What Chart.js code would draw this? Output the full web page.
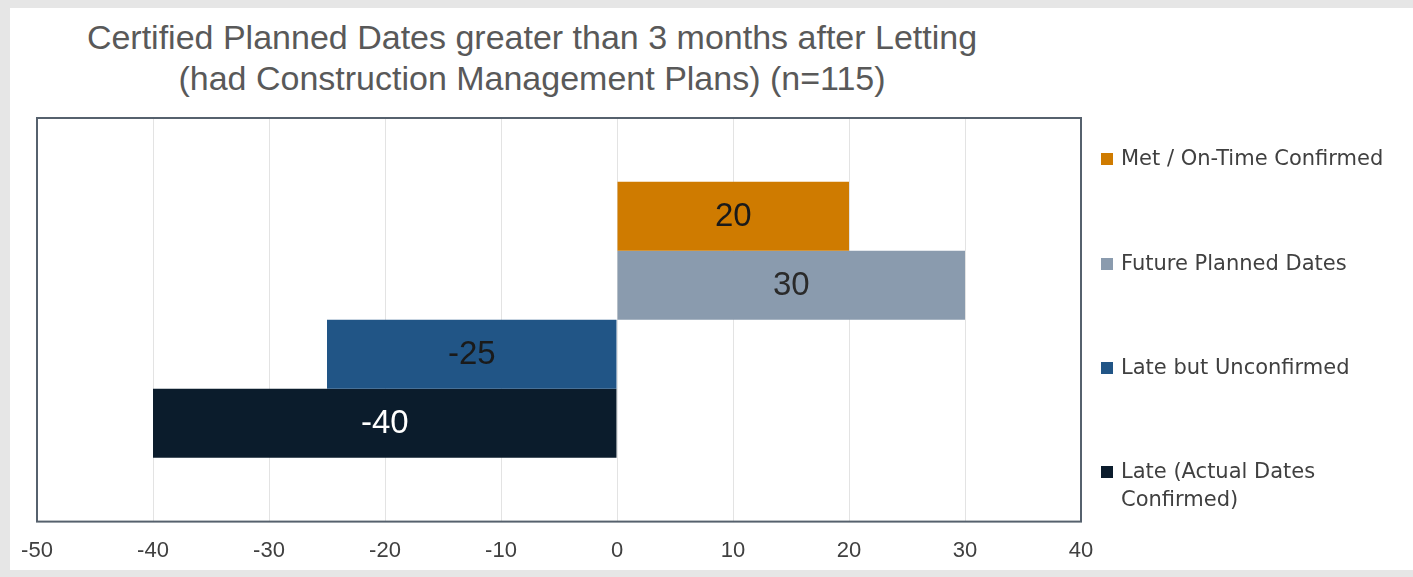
<!DOCTYPE html>
<html>
<head>
<meta charset="utf-8">
<script src="https://cdn.jsdelivr.net/npm/chart.js@4.4.1/dist/chart.umd.min.js"></script>
<style>
  html, body { margin: 0; padding: 0; background: #e6e6e6; }
  #wrap { position: relative; width: 1413px; height: 577px; overflow: hidden; }
  #panel { position: absolute; left: 10px; top: 8px; width: 1403px; height: 562px; background: #fff; }
  #title { position: absolute; left: 32px; width: 1000px; top: 17px; text-align: center;
    font-family: "Liberation Sans", sans-serif; font-size: 34px;
    line-height: 41px; color: #595959; }
  #chartBox { position: absolute; left: 0; top: 3px; width: 1413px; height: 577px; }
  #legend { position: absolute; left: 1101px; top: 0; font-family: "DejaVu Sans", sans-serif;
    font-size: 21px; color: #404040; }
  .item { position: absolute; left: 0; white-space: nowrap; line-height: 28px; }
  .item span.box { position: absolute; left: 0; top: 9px; width: 12px; height: 12px; }
  .item span.txt { position: absolute; left: 20px; top: 0; }
</style>
</head>
<body>
<div id="wrap">
  <div id="panel"></div>
  <div id="title">Certified Planned Dates greater than 3 months after Letting<br>(had Construction Management Plans) (n=115)</div>
  <div id="chartBox"><canvas id="perfChart" width="1413" height="577"></canvas></div>
  <div id="legend"></div>
</div>
<script>
const categories = [""];
const seriesNames = ["Met / On-Time Confirmed", "Future Planned Dates", "Late but Unconfirmed", "Late (Actual Dates Confirmed)"];
const seriesValues = [20, 30, -25, -40];
const seriesColors = ["#cf7b00", "#8a9bae", "#215586", "#0b1c2c"];
const labelColors = ["#1a1a1a", "#2a2a2a", "#1a1a1a", "#ffffff"];
const legendLines = [["Met / On-Time Confirmed"], ["Future Planned Dates"], ["Late but Unconfirmed"], ["Late (Actual Dates", "Confirmed)"]];
const xTicks = [-50, -40, -30, -20, -10, 0, 10, 20, 30, 40];

// legend built by hand so the last label can wrap like the original
const legendTops = [144, 249, 353, 457];
const legendEl = document.getElementById("legend");
legendLines.forEach((lines, i) => {
  const item = document.createElement("div");
  item.className = "item";
  item.style.top = legendTops[i] + "px";
  item.innerHTML = `<span class="box" style="background:${seriesColors[i]}"></span><span class="txt">${lines.join("<br>")}</span>`;
  legendEl.appendChild(item);
});

const frameAndLabels = {
  id: "frameAndLabels",
  afterDatasetsDraw(chart) {
    const ctx = chart.ctx;
    ctx.save();
    ctx.font = "33px 'Liberation Sans', sans-serif";
    ctx.textAlign = "center";
    ctx.textBaseline = "middle";
    chart.data.datasets.forEach((ds, i) => {
      const bar = chart.getDatasetMeta(i).data[0];
      const cx = (bar.x + bar.base) / 2;
      ctx.fillStyle = labelColors[i];
      ctx.fillText(String(ds.data[0]), cx, bar.y + 1);
    });
    const a = chart.chartArea;
    ctx.strokeStyle = "#56616d";
    ctx.lineWidth = 2;
    ctx.strokeRect(a.left, a.top, a.right - a.left, a.bottom - a.top);
    ctx.restore();
  }
};

const ctx = document.getElementById("perfChart").getContext("2d");
new Chart(ctx, {
  type: "bar",
  data: {
    labels: categories,
    datasets: seriesNames.map((name, i) => ({
      label: name,
      data: [seriesValues[i]],
      backgroundColor: seriesColors[i],
      borderWidth: 0,
      barPercentage: 1.0,
      categoryPercentage: 0.684
    }))
  },
  options: {
    indexAxis: "y",
    responsive: false,
    animation: false,
    layout: { padding: { left: 37, right: 332, top: 115, bottom: 0 } },
    plugins: { legend: { display: false }, title: { display: false }, tooltip: { enabled: false } },
    scales: {
      x: {
        min: -50, max: 40,
        afterBuildTicks: (axis) => { axis.ticks = xTicks.map(v => ({ value: v })); },
        grid: { color: "#e3e3e3", lineWidth: 1, drawTicks: false },
        border: { display: false },
        ticks: { color: "#404040", padding: 16, maxRotation: 0,
          font: { family: "'Liberation Sans', sans-serif", size: 22 } }
      },
      y: { display: false }
    }
  },
  plugins: [frameAndLabels]
});
</script>
</body>
</html>
